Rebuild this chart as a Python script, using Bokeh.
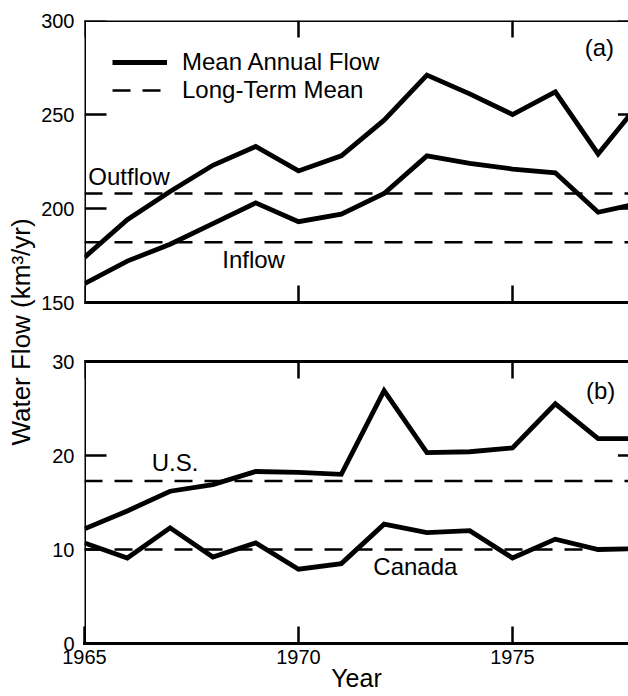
from bokeh.plotting import figure
from bokeh.models import (Range1d, LinearAxis, FixedTicker, Label, Legend, LegendItem, Title)
from bokeh.embed import file_html
from bokeh.resources import INLINE

# ---------------- data ----------------
YEARS = [1965, 1966, 1967, 1968, 1969, 1970, 1971, 1972, 1973, 1974, 1975, 1976, 1977, 1978]
OUTFLOW = [174, 194, 209, 223, 233, 220, 228, 247, 271, 261, 250, 262, 229, 257]
INFLOW = [160, 172, 181, 192, 203, 193, 197, 208, 228, 224, 221, 219, 198, 203]
US = [12.2, 14.1, 16.2, 16.9, 18.3, 18.2, 18.0, 26.9, 20.3, 20.4, 20.8, 25.5, 21.8, 21.8]
CANADA = [10.7, 9.1, 12.3, 9.2, 10.7, 7.9, 8.5, 12.7, 11.8, 12.0, 9.1, 11.1, 10.0, 10.1]

OUTFLOW_MEAN = 208
INFLOW_MEAN = 182
US_MEAN = 17.3
CANADA_MEAN = 10.0

X_TICKS = [1965, 1970, 1975]
TOP_Y_TICKS = [150, 200, 250, 300]
BOT_Y_TICKS = [0, 10, 20, 30]

# ---------------- style / layout ----------------
FONT = "Liberation Sans"
W, H = 628, 696
LEFT, TOP, BOTTOM = 84, 20, 53
PANEL_H, GAP = 282, 59            # pixel height of each panel and gap between them
FRAME_H = H - TOP - BOTTOM
X_START, X_END = 1965, 1977.71    # the original is cropped at the right edge
RIGHT_AXIS = 1978
PX_PER_YEAR = (W - LEFT) / (X_END - X_START)
Y_TICK_LEN = 22
X_TICK_LEN = 17
DASH = "18 12"
LW_DATA = 4.8
LW_MEAN = 2.5

# panel (a) occupies the upper PANEL_H px of the frame, panel (b) the lower PANEL_H px
top_lo, top_hi = TOP_Y_TICKS[0], TOP_Y_TICKS[-1]
top_upp = (top_hi - top_lo) / PANEL_H
top_start = top_lo - (PANEL_H + GAP) * top_upp
top_range = Range1d(top_start, top_hi)
bot_lo, bot_hi = BOT_Y_TICKS[0], BOT_Y_TICKS[-1]
bot_range = Range1d(bot_lo, bot_lo + FRAME_H * (bot_hi - bot_lo) / PANEL_H)


def bot_to_top(v):
    """position of a panel-(b) value expressed in panel-(a) axis units"""
    return top_start + (v - bot_lo) / (bot_hi - bot_lo) * PANEL_H * top_upp


p = figure(width=W, height=H, x_range=Range1d(X_START, X_END), y_range=top_range,
           output_backend="svg", toolbar_location=None,
           x_axis_location=None, y_axis_location=None,
           min_border_left=LEFT, min_border_right=0,
           min_border_top=TOP, min_border_bottom=BOTTOM)
p.extra_y_ranges = {"bot": bot_range}
p.outline_line_color = None
p.grid.visible = False
p.background_fill_color = "white"
p.border_fill_color = "white"


def make_axis(side, ticks, tick_len, fixed=None, y_range_name="default", bounds="auto"):
    ax = LinearAxis(ticker=FixedTicker(ticks=ticks), fixed_location=fixed,
                    y_range_name=y_range_name, bounds=bounds)
    ax.major_tick_in = tick_len
    ax.major_tick_out = 0
    ax.minor_tick_line_color = None
    ax.axis_line_color = "black"
    ax.axis_line_width = 3
    ax.axis_line_cap = "square"
    ax.major_tick_line_color = "black"
    ax.major_tick_line_width = 2.5
    ax.major_label_text_color = None
    p.add_layout(ax, side)
    return ax


# panel (a) frame: lines and ticks
make_axis("left", TOP_Y_TICKS, Y_TICK_LEN, X_START, bounds=(top_lo, top_hi))
make_axis("above", X_TICKS, X_TICK_LEN, top_hi)
make_axis("below", X_TICKS, X_TICK_LEN, top_lo)
# panel (b) frame: lines and ticks
make_axis("left", BOT_Y_TICKS, Y_TICK_LEN, X_START, "bot", bounds=(bot_lo, bot_hi))
make_axis("above", X_TICKS, X_TICK_LEN, bot_hi, "bot")
xaxis = make_axis("below", X_TICKS, X_TICK_LEN)          # bottom of panel (b), with labels
xaxis.major_label_text_color = "black"
xaxis.major_label_text_font = FONT
xaxis.major_label_text_font_size = "20px"
xaxis.major_label_standoff = 6
xaxis.axis_label = "Year"
xaxis.axis_label_text_font = FONT
xaxis.axis_label_text_font_size = "25px"
xaxis.axis_label_text_font_style = "normal"
xaxis.axis_label_text_color = "black"
xaxis.axis_label_standoff = -3

# y tick labels of both panels on one (line-less) left axis
label_ticks = list(TOP_Y_TICKS) + [bot_to_top(v) for v in BOT_Y_TICKS]
label_texts = [str(v) for v in TOP_Y_TICKS] + [str(v) for v in BOT_Y_TICKS]
yl = LinearAxis(ticker=FixedTicker(ticks=label_ticks),
                major_label_overrides=dict(zip(label_ticks, label_texts)))
yl.axis_line_color = None
yl.major_tick_line_color = None
yl.minor_tick_line_color = None
yl.major_tick_in = 0
yl.major_tick_out = 0
yl.major_label_text_font = FONT
yl.major_label_text_font_size = "20px"
yl.major_label_text_color = "black"
yl.major_label_standoff = 10
p.add_layout(yl, "left")

# stubs of the (cropped) right-hand axis ticks
stub_x0 = RIGHT_AXIS - (Y_TICK_LEN + 1) / PX_PER_YEAR
p.segment(x0=[stub_x0] * 4, y0=TOP_Y_TICKS, x1=[RIGHT_AXIS] * 4, y1=TOP_Y_TICKS,
          line_color="black", line_width=2.5)
p.segment(x0=[stub_x0] * 4, y0=BOT_Y_TICKS, x1=[RIGHT_AXIS] * 4, y1=BOT_Y_TICKS,
          line_color="black", line_width=2.5, y_range_name="bot")

# ---------------- panel (a) data ----------------
r_out = p.line(YEARS, OUTFLOW, line_color="black", line_width=LW_DATA, line_join="miter")
p.line(YEARS, INFLOW, line_color="black", line_width=LW_DATA, line_join="miter")
r_mean = p.line([YEARS[0], RIGHT_AXIS], [OUTFLOW_MEAN] * 2, line_color="black",
                line_width=LW_MEAN, line_dash=DASH)
p.line([YEARS[0], RIGHT_AXIS], [INFLOW_MEAN] * 2, line_color="black",
       line_width=LW_MEAN, line_dash=DASH)

# ---------------- panel (b) data ----------------
p.line(YEARS, US, line_color="black", line_width=LW_DATA, line_join="miter", y_range_name="bot")
p.line(YEARS, CANADA, line_color="black", line_width=LW_DATA, line_join="miter", y_range_name="bot")
p.line([YEARS[0], RIGHT_AXIS], [US_MEAN] * 2, line_color="black", line_width=LW_MEAN,
       line_dash=DASH, y_range_name="bot")
p.line([YEARS[0], RIGHT_AXIS], [CANADA_MEAN] * 2, line_color="black", line_width=LW_MEAN,
       line_dash=DASH, y_range_name="bot")

legend = Legend(items=[LegendItem(label="Mean Annual Flow", renderers=[r_out]),
                       LegendItem(label="Long-Term Mean", renderers=[r_mean])],
                location=(28, FRAME_H - 84), orientation="vertical", padding=0, margin=0,
                spacing=0, glyph_width=55, glyph_height=26, label_height=26, label_standoff=15,
                label_text_font=FONT, label_text_font_size="24px", label_text_color="black",
                border_line_alpha=0, background_fill_alpha=0)
p.add_layout(legend)


def text_label(x, y, text, align="left", range_name="default"):
    p.add_layout(Label(x=x, y=y, text=text, text_font=FONT, text_font_size="24px",
                       text_color="black", text_align=align, text_baseline="middle",
                       y_range_name=range_name))


text_label(1965.09, 217, "Outflow")
text_label(1968.95, 172.9, "Inflow", align="center")
text_label(1977.03, 285.6, "(a)", align="center")
text_label(1966.57, 19.26, "U.S.", range_name="bot")
text_label(1972.73, 8.19, "Canada", align="center", range_name="bot")
text_label(1977.06, 26.9, "(b)", align="center", range_name="bot")

p.add_layout(Title(text="Water Flow (km³/yr)", align="center", text_font=FONT,
                   text_font_size="26px", text_font_style="normal", text_color="black",
                   standoff=6), "left")

open("out.html", "w").write(file_html(p, INLINE))
